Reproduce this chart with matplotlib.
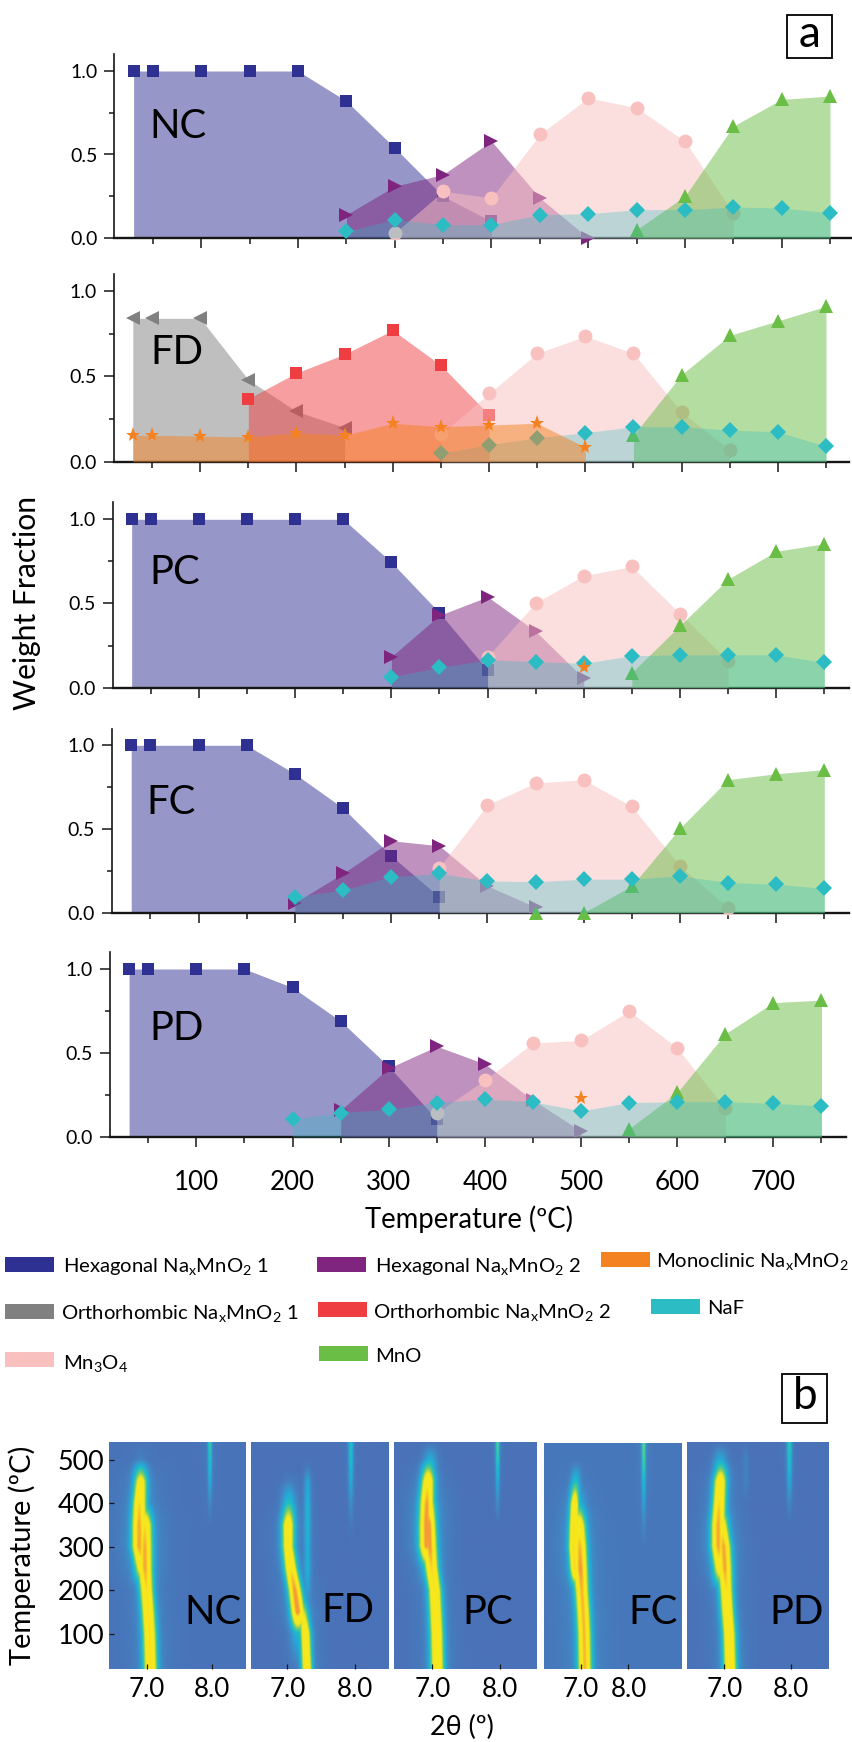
import numpy as np
import matplotlib
matplotlib.use("Agg")
import matplotlib.pyplot as plt
from matplotlib.colors import LinearSegmentedColormap
from matplotlib.patches import Rectangle

plt.rcParams['font.family'] = ['Lato', 'DejaVu Sans']
plt.rcParams['mathtext.fontset'] = 'custom'
plt.rcParams['mathtext.rm'] = 'Lato'
plt.rcParams['mathtext.it'] = 'Lato'
plt.rcParams['mathtext.bf'] = 'Lato'

W, H = 853, 1742
INK = '#161616'

# ------------------------------ data: panel a ------------------------------
NC_HEX1_T = [30, 50, 100, 150, 200, 250, 300, 350, 400]
NC_HEX1 = [1, 1, 1, 1, 1, .82, .54, .25, .10]
NC_HEX2_T = [250, 300, 350, 400, 450, 500]
NC_HEX2 = [.14, .31, .38, .58, .24, 0.0]
NC_MN3O4_T = [300, 350, 400, 450, 500, 550, 600, 650]
NC_MN3O4 = [.03, .28, .24, .62, .84, .78, .58, .15]
NC_MNO_T = [550, 600, 650, 700, 750]
NC_MNO = [.05, .25, .67, .83, .85]
NC_NAF_T = [250, 300, 350, 400, 450, 500, 550, 600, 650, 700, 750]
NC_NAF = [.04, .11, .08, .08, .14, .145, .17, .17, .185, .18, .15]

FD_ORT1_T = [30, 50, 100, 150, 200, 250]
FD_ORT1 = [.84, .84, .84, .48, .295, .20]
FD_ORT2_T = [150, 200, 250, 300, 350, 400]
FD_ORT2 = [.37, .52, .63, .77, .565, .275]
FD_MONO_T = [30, 50, 100, 150, 200, 250, 300, 350, 400, 450, 500]
FD_MONO = [.155, .155, .15, .145, .17, .155, .225, .205, .215, .225, .085]
FD_MN3O4_T = [350, 400, 450, 500, 550, 600, 650]
FD_MN3O4 = [.16, .40, .635, .735, .635, .29, .07]
FD_MNO_T = [550, 600, 650, 700, 750]
FD_MNO = [.155, .51, .74, .825, .91]
FD_NAF_T = [350, 400, 450, 500, 550, 600, 650, 700, 750]
FD_NAF = [.05, .10, .14, .17, .205, .205, .185, .175, .09]

PC_HEX1_T = [30, 50, 100, 150, 200, 250, 300, 350, 400]
PC_HEX1 = [1, 1, 1, 1, 1, 1, .745, .445, .105]
PC_HEX2_T = [300, 350, 400, 450, 500]
PC_HEX2 = [.185, .43, .54, .335, .055]
PC_MN3O4_T = [400, 450, 500, 550, 600, 650]
PC_MN3O4 = [.185, .505, .665, .72, .44, .16]
PC_MNO_T = [550, 600, 650, 700, 750]
PC_MNO = [.09, .37, .645, .81, .855]
PC_NAF_T = [300, 350, 400, 450, 500, 550, 600, 650, 700, 750]
PC_NAF = [.065, .12, .165, .155, .145, .19, .195, .195, .195, .15]
PC_MONO_T = [500]
PC_MONO = [.125]

FC_HEX1_T = [30, 50, 100, 150, 200, 250, 300, 350]
FC_HEX1 = [1, 1, 1, 1, .83, .625, .34, .095]
FC_HEX2_T = [200, 250, 300, 350, 400, 450]
FC_HEX2 = [.06, .235, .43, .40, .16, .034]
FC_MN3O4_T = [350, 400, 450, 500, 550, 600, 650]
FC_MN3O4 = [.27, .645, .775, .795, .635, .28, .03]
FC_MNO_T = [450, 500, 550, 600, 650, 700, 750]
FC_MNO = [0.0, 0.0, .16, .505, .795, .83, .855]
FC_NAF_T = [200, 250, 300, 350, 400, 450, 500, 550, 600, 650, 700, 750]
FC_NAF = [.095, .135, .215, .235, .19, .185, .20, .20, .22, .18, .17, .145]

PD_HEX1_T = [30, 50, 100, 150, 200, 250, 300, 350]
PD_HEX1 = [1, 1, 1, 1, .89, .69, .42, .105]
PD_HEX2_T = [250, 300, 350, 400, 450, 500]
PD_HEX2 = [.16, .41, .54, .435, .22, .035]
PD_MN3O4_T = [350, 400, 450, 500, 550, 600, 650]
PD_MN3O4 = [.145, .34, .56, .575, .75, .53, .17]
PD_MNO_T = [550, 600, 650, 700, 750]
PD_MNO = [.05, .265, .615, .80, .815]
PD_NAF_T = [200, 250, 300, 350, 400, 450, 500, 550, 600, 650, 700, 750]
PD_NAF = [.105, .145, .165, .205, .225, .21, .155, .205, .21, .21, .20, .185]
PD_MONO_T = [500]
PD_MONO = [.235]

PANEL_NAMES = ['NC', 'FD', 'PC', 'FC', 'PD']
X_TICK_LABELS = [100, 200, 300, 400, 500, 600, 700]

# ------------------------------ data: panel b ------------------------------
# ridges: 2-theta position and intensity at each temperature
T_NODES = [20, 100, 150, 200, 250, 300, 350, 400, 450, 480, 500, 540]

NC_A_POS = [7.05, 7.035, 7.015, 6.99, 6.97, 6.97, 6.97, 6.97, 6.97, 6.97, 6.97, 6.97]
NC_A_AMP = [.80, .80, .80, .80, .80, .78, .70, .10, 0, 0, 0, 0]
NC_B_POS = [6.9, 6.9, 6.9, 6.9, 6.91, 6.87, 6.87, 6.88, 6.90, 6.90, 6.90, 6.90]
NC_B_AMP = [0, 0, 0, 0, .55, .80, .80, .80, .65, .30, .05, 0]
NC_C_POS = [7.96] * 12
NC_C_AMP = [0, 0, 0, 0, 0, 0, 0, .08, .20, .26, .30, .36]

FD_A_POS = [7.29, 7.27, 7.24, 7.20, 7.20, 7.20, 7.20, 7.20, 7.20, 7.20, 7.20, 7.20]
FD_A_AMP = [.80, .75, .40, .05, 0, 0, 0, 0, 0, 0, 0, 0]
FD_B_POS = [7.15, 7.15, 7.15, 7.11, 7.05, 7.01, 7.01, 7.02, 7.02, 7.02, 7.02, 7.02]
FD_B_AMP = [0, .20, .92, .92, .80, .70, .72, .30, .05, 0, 0, 0]
FD_C_POS = [7.30] * 12
FD_C_AMP = [0, 0, 0, .10, .20, .20, .22, .22, .18, .05, 0, 0]
FD_D_POS = [7.945] * 12
FD_D_AMP = [0, 0, 0, 0, 0, 0, .03, .10, .20, .24, .28, .30]

PC_A_POS = [7.07, 7.06, 7.045, 7.03, 6.985, 6.96, 6.945, 6.935, 6.93, 6.93, 6.93, 6.93]
PC_A_AMP = [.80, .80, .80, .80, .80, .80, .80, .55, 0, 0, 0, 0]
PC_B_POS = [6.9, 6.9, 6.9, 6.9, 6.91, 6.90, 6.90, 6.91, 6.93, 6.935, 6.96, 6.97]
PC_B_AMP = [0, 0, 0, 0, .20, .80, .80, .80, .75, .40, .20, 0]
PC_C_POS = [7.96] * 12
PC_C_AMP = [0, 0, 0, 0, 0, 0, 0, .10, .22, .30, .35, .42]

FC_A_POS = [7.063, 7.05, 7.03, 7.0, 6.98, 6.965, 6.95, 6.95, 6.95, 6.95, 6.95, 6.95]
FC_A_AMP = [.85, .85, .85, .85, .85, .80, .65, .15, 0, 0, 0, 0]
FC_B_POS = [6.85, 6.85, 6.85, 6.85, 6.85, 6.82, 6.83, 6.845, 6.865, 6.88, 6.88, 6.88]
FC_B_AMP = [0, 0, 0, .05, .70, .70, .70, .70, .28, .10, 0, 0]
FC_C_POS = [8.30] * 12
FC_C_AMP = [0, 0, 0, 0, 0, 0, .06, .15, .25, .33, .38, .42]

PD_A_POS = [7.075, 7.06, 7.035, 7.015, 7.0, 6.985, 6.95, 6.95, 6.95, 6.95, 6.95, 6.95]
PD_A_AMP = [.80, .80, .80, .80, .82, .80, .60, .10, 0, 0, 0, 0]
PD_B_POS = [6.9, 6.9, 6.9, 6.9, 6.92, 6.89, 6.89, 6.91, 6.925, 6.935, 6.925, 6.925]
PD_B_AMP = [0, 0, 0, .05, .60, .80, .80, .80, .75, .40, .20, 0]
PD_C_POS = [7.965] * 12
PD_C_AMP = [0, 0, 0, 0, 0, 0, 0, .08, .20, .26, .30, .35]
PD_D_POS = [7.31] * 12
PD_D_AMP = [0, 0, 0, 0, 0, 0, 0, 0, .05, .06, .07, 0]

HEAT_TICKS_Y = [100, 200, 300, 400, 500]
HEAT_TICKS_X = [7.0, 8.0]
HEAT_TICK_LABELS_X = ['7.0', '8.0']

# ------------------------------ styles ------------------------------
STYLE = {
    'hex1': ('#2e3192', 's', 8.6, .5),
    'ort1': ('#808080', '<', 10, .5),
    'hex2': ('#7f2580', '>', 10, .5),
    'ort2': ('#ef3e42', 's', 8.6, .5),
    'mn3o4': ('#f9c0c0', 'o', 10, .5),
    'mno': ('#6abd45', '^', 10, .5),
    'naf': ('#2bbcc4', 'D', 8.3, .3),
    'mono': ('#f58220', '*', 11, .5),
}

PANELS = {
    'NC': dict(y1=71, y0=238, x100=201.3, x750=830, left=114.3, right=853,
               label=(178.5, 126),
               series=[('hex1', NC_HEX1_T, NC_HEX1), ('hex2', NC_HEX2_T, NC_HEX2),
                       ('mn3o4', NC_MN3O4_T, NC_MN3O4), ('mno', NC_MNO_T, NC_MNO),
                       ('naf', NC_NAF_T, NC_NAF)]),
    'FD': dict(y1=291, y0=461.7, x100=200.2, x750=826, left=113.7, right=849,
               label=(177, 352),
               series=[('ort1', FD_ORT1_T, FD_ORT1), ('ort2', FD_ORT2_T, FD_ORT2),
                       ('mn3o4', FD_MN3O4_T, FD_MN3O4), ('mno', FD_MNO_T, FD_MNO),
                       ('naf', FD_NAF_T, FD_NAF), ('mono', FD_MONO_T, FD_MONO)]),
    'PC': dict(y1=519.3, y0=687.7, x100=199, x750=824.3, left=112.6, right=849,
               label=(175, 573),
               series=[('hex1', PC_HEX1_T, PC_HEX1), ('hex2', PC_HEX2_T, PC_HEX2),
                       ('mn3o4', PC_MN3O4_T, PC_MN3O4), ('mno', PC_MNO_T, PC_MNO),
                       ('naf', PC_NAF_T, PC_NAF), ('mono', PC_MONO_T, PC_MONO)]),
    'FC': dict(y1=745.3, y0=912.7, x100=198.6, x750=824.3, left=112, right=849,
               label=(171, 802),
               series=[('hex1', FC_HEX1_T, FC_HEX1), ('hex2', FC_HEX2_T, FC_HEX2),
                       ('mn3o4', FC_MN3O4_T, FC_MN3O4), ('mno', FC_MNO_T, FC_MNO),
                       ('naf', FC_NAF_T, FC_NAF)]),
    'PD': dict(y1=969, y0=1137, x100=196.4, x750=821.5, left=110, right=846,
               label=(177, 1029),
               series=[('hex1', PD_HEX1_T, PD_HEX1), ('hex2', PD_HEX2_T, PD_HEX2),
                       ('mn3o4', PD_MN3O4_T, PD_MN3O4), ('mno', PD_MNO_T, PD_MNO),
                       ('naf', PD_NAF_T, PD_NAF), ('mono', PD_MONO_T, PD_MONO)]),
}

HEAT = {
    'NC': dict(box=(109.3, 245.5, 1442.3, 1669), xlim=(6.417, 8.51), sig=.075, bg=.01,
               ridges=[(NC_A_POS, NC_A_AMP, 1), (NC_B_POS, NC_B_AMP, 1), (NC_C_POS, NC_C_AMP, .3)],
               label=(213, 1612)),
    'FD': dict(box=(251, 389, 1442.3, 1669), xlim=(6.46, 8.51), sig=.070, bg=0,
               ridges=[(FD_A_POS, FD_A_AMP, .8), (FD_B_POS, FD_B_AMP, 1), (FD_C_POS, FD_C_AMP, .5),
                       (FD_D_POS, FD_D_AMP, .38)],
               label=(348, 1610)),
    'PC': dict(box=(394, 536.5, 1441.7, 1669), xlim=(6.43, 8.54), sig=.072, bg=0,
               ridges=[(PC_A_POS, PC_A_AMP, 1), (PC_B_POS, PC_B_AMP, 1), (PC_C_POS, PC_C_AMP, .3)],
               label=(488, 1612)),
    'FC': dict(box=(543.5, 680.6, 1443, 1669), xlim=(6.21, 9.10), sig=.100, bg=.025,
               ridges=[(FC_A_POS, FC_A_AMP, 1), (FC_B_POS, FC_B_AMP, .7), (FC_C_POS, FC_C_AMP, .3)],
               label=(653, 1612)),
    'PD': dict(box=(686.6, 828, 1442.3, 1669), xlim=(6.43, 8.557), sig=.072, bg=0,
               ridges=[(PD_A_POS, PD_A_AMP, 1), (PD_B_POS, PD_B_AMP, 1), (PD_C_POS, PD_C_AMP, .38),
                       (PD_D_POS, PD_D_AMP, .4)],
               label=(796.5, 1612)),
}

CMAP = LinearSegmentedColormap.from_list('xrd', [
    (0.00, '#4a72b8'), (0.10, '#3f8bc6'), (0.20, '#25a8d8'), (0.32, '#1fc0c0'),
    (0.45, '#6fcb72'), (0.60, '#f4e71e'), (0.86, '#f8e81c'), (1.00, '#f49a3a')])

# ------------------------------ helpers ------------------------------
fig = plt.figure(figsize=(W / 100, H / 100), dpi=100, facecolor='white')


def pt(px):
    return px * 0.72


def place(l, r, t, b):
    return fig.add_axes([l / W, 1 - b / H, (r - l) / W, (b - t) / H])


def ftext(x, y, s, size, ha='center', va='center', **kw):
    return fig.text(x / W, 1 - y / H, s, fontsize=pt(size), ha=ha, va=va, color=kw.pop('color', 'black'), **kw)


# ------------------------------ panel a ------------------------------
for i, name in enumerate(PANEL_NAMES):
    p = PANELS[name]
    scale = (p['y0'] - p['y1'])
    sx = (p['x750'] - p['x100']) / 650
    ax = place(p['left'], p['right'], p['y0'] - 1.1 * scale, p['y0'])
    ax.patch.set_alpha(0)
    ax.set_xlim(100 + (p['left'] - p['x100']) / sx, 100 + (p['right'] - p['x100']) / sx)
    ax.set_ylim(0, 1.1)
    for s in ('top', 'right'):
        ax.spines[s].set_visible(False)
    ax.spines['left'].set_linewidth(1.2)
    ax.spines['left'].set_color(INK)
    ax.spines['bottom'].set_linewidth(1.7)
    ax.spines['bottom'].set_color(INK)

    z = 2
    for key, t, v in p['series']:
        color, marker, ms, alpha = STYLE[key]
        ax.fill_between(t, 0, v, color=color, alpha=alpha, lw=0, zorder=z)
        ax.plot(t, v, ls='none', marker=marker, ms=ms, color=color, mew=0, clip_on=False, zorder=z + 1)
        z += 2

    ax.set_xticks(X_TICK_LABELS)
    ax.set_xticks([50, 150, 250, 350, 450, 550, 650, 750], minor=True)
    ax.set_yticks([0, .5, 1.0])
    ax.set_yticks([.25, .75], minor=True)
    ax.tick_params(axis='both', which='major', length=pt(10), width=1.1, color=INK)
    ax.tick_params(axis='both', which='minor', length=pt(5.5), width=1.1, color=INK)
    ax.tick_params(axis='y', which='major', labelsize=pt(19.5), pad=pt(7))
    if name == 'PD':
        ax.tick_params(axis='x', which='major', labelsize=pt(26), pad=pt(23))
    else:
        ax.tick_params(axis='x', which='major', labelbottom=False)
    ftext(p['label'][0], p['label'][1], name, 40)

ftext(27, 603, 'Weight Fraction', 30, rotation=90)
ftext(469, 1219, 'Temperature (ºC)', 27.5)


def tag(l, r, t, b, s):
    fig.add_artist(Rectangle((l / W, 1 - b / H), (r - l) / W, (b - t) / H, transform=fig.transFigure,
                             fc='white', ec='black', lw=1.3))
    ftext((l + r) / 2, (t + b) / 2 - 2, s, 44)


tag(787, 832.5, 15, 57.7, 'a')
tag(782, 827.5, 1374, 1423, 'b')

# ------------------------------ legend ------------------------------
LEGEND = [
    ('#2e3192', 5.4, 1257, 62.6, 1264, r'Hexagonal Na$_{\mathrm{x}}$MnO$_{2}$ 1'),
    ('#7f2580', 316.6, 1257, 375.4, 1264, r'Hexagonal Na$_{\mathrm{x}}$MnO$_{2}$ 2'),
    ('#f58220', 601, 1252, 655.6, 1259, r'Monoclinic Na$_{\mathrm{x}}$MnO$_{2}$'),
    ('#808080', 5.4, 1303.5, 61.5, 1310.7, r'Orthorhombic Na$_{\mathrm{x}}$MnO$_{2}$ 1'),
    ('#ef3e42', 317.7, 1302, 373, 1310, r'Orthorhombic Na$_{\mathrm{x}}$MnO$_{2}$ 2'),
    ('#2bbcc4', 650.7, 1298.7, 707, 1307, 'NaF'),
    ('#f9c0c0', 5.4, 1351.7, 62.6, 1360.7, r'Mn$_{3}$O$_{4}$'),
    ('#6abd45', 318.8, 1346, 375.4, 1355, 'MnO'),
]
for color, sx0, sy0, tx, ty, lab in LEGEND:
    fig.add_artist(Rectangle((sx0 / W, 1 - (sy0 + 15) / H), 49 / W, 15 / H, transform=fig.transFigure,
                             fc=color, ec='none'))
    ftext(tx, ty, lab, 20.3, ha='left', va='center_baseline')

# ------------------------------ panel b ------------------------------
for i, name in enumerate(PANEL_NAMES):
    h = HEAT[name]
    l, r, t, b = h['box']
    ax = place(l, r, t, b)
    xs = np.linspace(h['xlim'][0], h['xlim'][1], 320)
    ts = np.linspace(19, 540, 500)
    peaks = []
    halo = np.zeros((ts.size, xs.size))
    for pos, amp, sig_scale in h['ridges']:
        c = np.interp(ts, T_NODES, pos)[:, None]
        a = np.interp(ts, T_NODES, amp)[:, None]
        sig = h['sig'] * sig_scale
        peaks.append(a * np.exp(-(xs[None, :] - c) ** 2 / (2 * sig ** 2)))
        halo += 0.08 * a * np.exp(-(xs[None, :] - c) ** 2 / (2 * (3 * sig) ** 2))
    peaks = np.array(peaks)
    top = peaks.max(axis=0)
    field = h['bg'] + top + 0.14 * (peaks.sum(axis=0) - top) + halo
    ax.imshow(field, origin='lower', aspect='auto', cmap=CMAP, vmin=0, vmax=1,
              extent=[h['xlim'][0], h['xlim'][1], 19, 540], interpolation='bilinear')
    for s in ax.spines.values():
        s.set_visible(False)
    ax.set_xticks(HEAT_TICKS_X)
    ax.set_xticklabels(HEAT_TICK_LABELS_X)
    ax.tick_params(axis='x', direction='in', length=pt(5), width=0.9, color=INK, labelsize=pt(26), pad=pt(8))
    if i == 0:
        ax.set_yticks(HEAT_TICKS_Y)
        ax.tick_params(axis='y', direction='in', length=pt(5), width=0.9, color=INK, labelsize=pt(27), pad=pt(5))
    else:
        ax.set_yticks([])
    ftext(h['label'][0], h['label'][1], name, 40)

ftext(22, 1555, 'Temperature (ºC)', 29, rotation=90)
ftext(462, 1727, '2θ (º)', 27)

fig.savefig('out.png', dpi=100, facecolor='white')
